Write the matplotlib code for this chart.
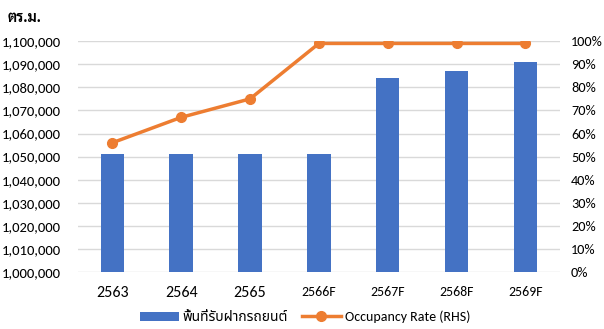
import matplotlib
matplotlib.use("Agg")
import matplotlib.pyplot as plt
from matplotlib import font_manager
from matplotlib.ticker import FuncFormatter, MultipleLocator
from matplotlib.lines import Line2D
from matplotlib.patches import Patch

categories = ["2563", "2564", "2565", "2566F", "2567F", "2568F", "2569F"]
area_sqm = [1051000, 1051000, 1051000, 1051000, 1084000, 1087000, 1091000]
occupancy_pct = [56, 67, 75, 99, 99, 99, 99]
bar_label = "พื้นที่รับฝากรถยนต์"
line_label = "Occupancy Rate (RHS)"
unit_label = "ตร.ม."

fl = font_manager.fontManager.ttflist
names = {f.name for f in fl}
def has_bold(n):
    return any(f.name == n and (f.weight in ('bold', 700) or str(f.weight) == '700' or 'Bold' in f.fname) for f in fl)
latin = next((n for n in ["Carlito", "Open Sans", "Liberation Sans", "DejaVu Sans"] if n in names), "DejaVu Sans")
thai = next((n for n in ["Noto Sans Thai", "Sarabun", "Noto Sans Thai Looped", "Prompt", "Kanit", "Athiti"] if n in names), latin)
thai_bold = next((n for n in ["Noto Sans Thai", "Sarabun", "Noto Sans Thai Looped", "Prompt", "Kanit"] if n in names and has_bold(n)), thai)
fams = [latin, thai, "DejaVu Sans"]
plt.rcParams['font.family'] = fams

BLUE = "#4472C4"
ORANGE = "#ED7D31"
GRID = "#D9D9D9"
TXT = "#000000"

fig = plt.figure(figsize=(6.04, 3.29), dpi=100)
ax = fig.add_axes([0.129, 0.173, 0.798, 0.702])
x = list(range(len(categories)))
ax.bar(x, area_sqm, width=0.34, color=BLUE, zorder=2)
ax.set_ylim(1000000, 1100000)
ax.set_xlim(-0.5, len(categories) - 0.5)
ax.yaxis.set_major_locator(MultipleLocator(10000))
ax.yaxis.set_major_formatter(FuncFormatter(lambda v, p: f"{int(round(v)):,}"))
ax.grid(axis='y', color=GRID, linewidth=1, zorder=0)
ax.set_axisbelow(True)
for s in ax.spines.values():
    s.set_visible(False)
ax.tick_params(axis='both', length=0)
ax.tick_params(axis='y', labelsize=10.5, pad=12, colors=TXT)
ax.set_xticks(x)
ax.set_xticklabels(categories)
for lbl, c in zip(ax.get_xticklabels(), categories):
    lbl.set_fontsize(10 if c.endswith("F") else 11.5)
ax.tick_params(axis='x', pad=10)

ax2 = ax.twinx()
ax2.plot(x, occupancy_pct, color=ORANGE, linewidth=2.5, marker='o', markersize=7, zorder=3)
ax2.set_ylim(0, 100)
ax2.yaxis.set_major_locator(MultipleLocator(10))
ax2.yaxis.set_major_formatter(FuncFormatter(lambda v, p: f"{int(round(v))}%"))
for s in ax2.spines.values():
    s.set_visible(False)
ax2.tick_params(axis='y', length=0, labelsize=10.3, pad=8)

fig.text(0.013, 0.945, unit_label, fontsize=10.5, fontweight='bold', va='center', ha='left',
         family=[thai_bold, latin, "DejaVu Sans"])

handles = [Patch(facecolor=BLUE, label=bar_label),
           Line2D([0], [0], color=ORANGE, linewidth=2.5, marker='o', markersize=7, label=line_label)]
fig.legend(handles=handles, loc='lower center', bbox_to_anchor=(0.505, -0.02), ncol=2,
           frameon=False, fontsize=10, handlelength=2.8, handleheight=0.6, columnspacing=1.0, handletextpad=0.3)

fig.savefig("out.png")
